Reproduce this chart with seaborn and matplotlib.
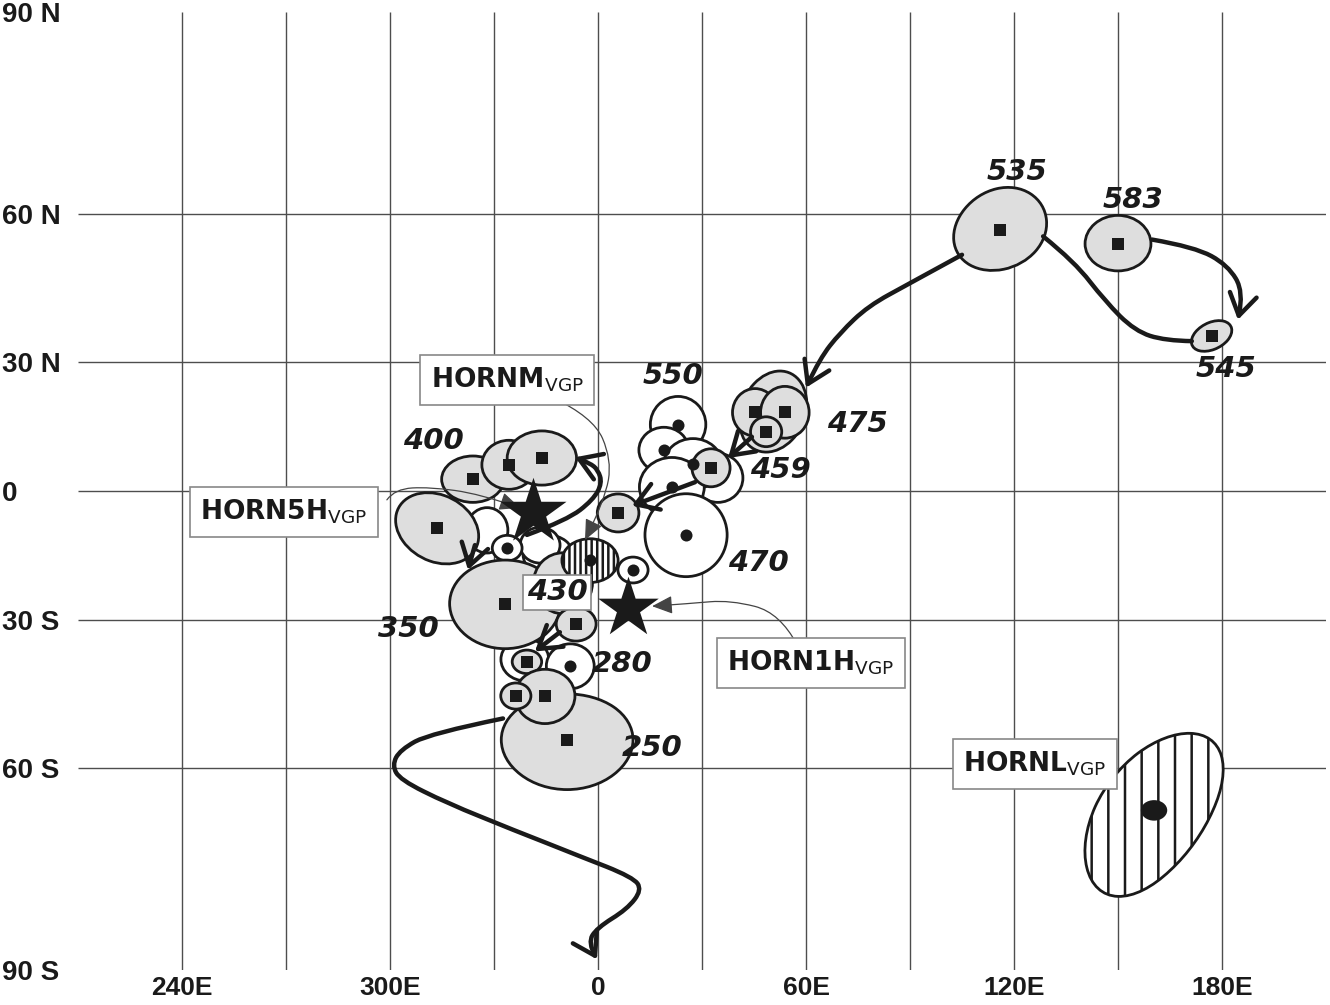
import matplotlib
matplotlib.use("Agg")
import matplotlib.pyplot as plt
import numpy as np
import seaborn as sns
from matplotlib.patches import Ellipse, FancyArrowPatch, ArrowStyle
from matplotlib.path import Path

sns.set_theme(style="white")
plt.rcParams['font.family'] = ['DejaVu Sans']
plt.rcParams['mathtext.fontset'] = 'dejavusans'
plt.rcParams['hatch.color'] = '#1a1a1a'
plt.rcParams['hatch.linewidth'] = 1.8

INK = '#1a1a1a'
GREY_FILL = '#dedede'
GRID = '#4d4d4d'

# --- map grid / tick labels ---
lon_grid = [-120, -90, -60, -30, 0, 30, 60, 90, 120, 150, 180]
lat_grid = [-60, -30, 0, 30, 60]
lon_ticks = [-120, -60, 0, 60, 120, 180]
lon_labels = ['240E', '300E', '0', '60E', '120E', '180E']
lat_ticks = [-90, -60, -30, 0, 30, 60, 90]
lat_labels = ['90 S', '60 S', '30 S', '0', '30 N', '60 N', '90 N']

# --- poles with grey confidence ellipses and square markers ---
sq_lon = [116, 150, 177, 45.3, 53.9, 48.5, 32.6, 5.8, -36.1, -25.7, -16.2,
          -46.4, -26.8, -10.1, -6.3, -20.5, -8.9, -15.3, -23.7]
sq_lat = [57.0, 54.5, 35.7, 18.5, 18.5, 14.0, 5.5, -5.2, 2.8, 6.2, 7.8,
          -8.8, -26.3, -21.6, -30.9, -39.1, -54.8, -46.2, -46.2]
sq_w = [27, 19, 12, 13, 14, 9, 11, 12, 18, 15.6, 20, 24.5, 32, 17, 11.5, 8.5, 38, 17.3, 8.7]
sq_h = [15, 10.5, 6, 11, 12, 7, 9, 9, 11, 11.6, 12.8, 16, 20, 14, 7.5, 5, 18, 11, 5.3]
sq_ang = [8, 0, 16, 0, 0, 0, 0, 0, 0, 0, 0, -16, 0, 0, 0, 0, 0, 0, 0]

# grey envelope without marker (475 group)
env_lon, env_lat, env_w, env_h, env_ang = [50.5], [18.6], [21], [17], [40]

# --- poles with open ellipses and dot markers ---
dot_lon = [23.1, 19.0, 27.4, 21.3, 25.4, 10.1, -26.2, -8.0]
dot_lat = [15.7, 9.7, 6.4, 0.95, -10.4, -18.6, -13.5, -40.0]
dot_w = [16, 14.4, 16.7, 18.7, 23.7, 8.7, 8.6, 13.8]
dot_h = [13, 10.7, 12, 14, 19.5, 6, 6, 9.5]

# open ellipses without visible marker
open_lon = [34.6, -32.0, -14.4, -21.1, -16.7]
open_lat = [3.1, -9.3, -15.1, -38.6, -12.8]
open_w = [14.4, 12, 14.4, 13.8, 11.5]
open_h = [11.6, 10.7, 9.3, 9, 8.4]

# hatched VGP ellipses (HORNM, HORNL)
hat_lon = [-2.3, 160.4]
hat_lat = [-16.4, -67.0]
hat_w = [16.2, 43]
hat_h = [10.2, 21.5]
hat_ang = [0, 25.6]
hat_pattern = ['|||', '|']

# site VGP stars (HORN5H, HORN1H)
star_lon = [-18.8, 8.7]
star_lat = [-5.1, -27.4]
star_size = [2500, 2100]

# age labels (Ma)
age_text = ['535', '583', '545', '550', '475', '459', '470', '400', '350', '280', '250']
age_lon = [120.9, 154.3, 181.2, 21.6, 74.7, 52.5, 46.2, -47.6, -54.8, 6.9, 15.6]
age_lat = [67.2, 62.4, 28.4, 26.9, 15.9, 5.0, -17.0, 11.9, -32.0, -39.6, -56.3]
boxed_age, boxed_lon, boxed_lat = '430', -11.8, -23.7

# VGP name boxes
vgp_name = ['HORNM', 'HORN5H', 'HORN1H', 'HORNL']
vgp_lon = [-26.2, -90.6, 61.4, 126.1]
vgp_lat = [25.9, -5.0, -39.4, -59.3]

# APWP track segments (thick arrows)
track_lon = [
    [105.0, 90.0, 77.9, 69.8, 64.0, 60.0],
    [128.4, 137.6, 146.2, 154.9, 163.6, 171.3],
    [159.8, 172.2, 181.7, 186.3, 184.6],
    [44.4, 37.5],
    [28.0, 9.8],
    [-20.5, -8.9, -1.4, 1.2, 0.0, -2.3, -6.6],
    [-35.5, -37.5],
    [-11.0, -18.2],
    [-27.4, -48.5, -57.1, -59.4, -57.1, -43.6, -24.5, -5.2, 10.1, 12.7, 8.4, -0.3, -2.9, -0.3],
]
track_lat = [
    [52.4, 46.8, 42.1, 36.4, 30.8, 24.2],
    [55.9, 51.0, 43.2, 36.8, 34.7, 34.6],
    [55.3, 53.9, 50.4, 45.0, 39.2],
    [12.8, 7.8],
    [2.1, -3.5],
    [-10.4, -6.9, -2.1, 1.9, 5.0, 6.6, 8.0],
    [-12.8, -18.6],
    [-32.7, -36.9],
    [-50.7, -53.6, -56.7, -59.5, -62.1, -66.1, -70.5, -74.6, -77.7, -79.5, -82.2, -84.7, -86.6, -88.7],
]
track_head = [True, False, True, True, True, True, True, True, True]

# thin leader lines from VGP boxes
lead_lon = [
    [-13.0, -1.4, 4.0, 2.0, -3.75],
    [-60.9, -58.6, -48.5, -34.0, -22.5],
    [57.4, 52.5, 38.1, 26.5, 15.6],
]
lead_lat = [
    [21.9, 17.5, 7.4, -2.1, -11.6],
    [-2.1, 0.5, 0.95, -0.7, -4.0],
    [-35.4, -28.4, -25.5, -26.3, -26.9],
]


def lat_fwd(lat):
    t = np.asarray(lat, dtype=float) / 30.0
    return 126.37 * t + 2.5 * t ** 3 + 0.1333 * t ** 5


_lat_dense = np.linspace(-100, 100, 4001)


def lat_inv(y):
    return np.interp(y, lat_fwd(_lat_dense), _lat_dense)


def smooth_path(lons, lats):
    pts = np.column_stack([lons, lats]).astype(float)
    if len(pts) == 2:
        return Path(pts, [Path.MOVETO, Path.LINETO])
    verts, codes = [pts[0]], [Path.MOVETO]
    for i in range(1, len(pts) - 1):
        end = pts[-1] if i == len(pts) - 2 else (pts[i] + pts[i + 1]) / 2
        verts += [pts[i], end]
        codes += [Path.CURVE3, Path.CURVE3]
    return Path(verts, codes)


fig = plt.figure(figsize=(13.3, 10.05), dpi=100)
ax = fig.add_axes([78 / 1330, 35 / 1005, 1248 / 1330, 958 / 1005])
ax.set_yscale('function', functions=(lat_fwd, lat_inv))

# grid
ax.vlines(lon_grid, -90, 90, color=GRID, lw=1.0, zorder=0)
ax.hlines(lat_grid, -150, 210, color=GRID, lw=1.0, zorder=0)

# open ellipses
for x, y, w, h in zip(open_lon + dot_lon, open_lat + dot_lat, open_w + dot_w, open_h + dot_h):
    ax.add_patch(Ellipse((x, y), w, h, fc='white', ec=INK, lw=2.0, zorder=2))

for x, y, w, h, a in zip(env_lon, env_lat, env_w, env_h, env_ang):
    ax.add_patch(Ellipse((x, y), w, h, angle=a, fc=GREY_FILL, ec=INK, lw=2.0, zorder=2))

for x, y, w, h, a in zip(sq_lon, sq_lat, sq_w, sq_h, sq_ang):
    ax.add_patch(Ellipse((x, y), w, h, angle=a, fc=GREY_FILL, ec=INK, lw=2.0, zorder=2))

for x, y, w, h, a, p in zip(hat_lon, hat_lat, hat_w, hat_h, hat_ang, hat_pattern):
    ax.add_patch(Ellipse((x, y), w, h, angle=a, fc='white', ec=INK, lw=2.0,
                         hatch=p, zorder=3))

# markers
sns.scatterplot(x=sq_lon, y=sq_lat, marker='s', s=85, color=INK, linewidth=0, ax=ax, zorder=4)
sns.scatterplot(x=dot_lon + hat_lon[:1], y=dot_lat + hat_lat[:1], marker='o', s=75,
                color=INK, linewidth=0, ax=ax, zorder=4)
ax.add_patch(Ellipse((hat_lon[1], hat_lat[1] - 0.3), 7.6, 3.4, fc=INK, ec='none', zorder=4))

# APWP track
for xs, ys, head in zip(track_lon, track_lat, track_head):
    style = ArrowStyle('->', head_length=0.55, head_width=0.35) if head else ArrowStyle('-')
    ax.add_patch(FancyArrowPatch(path=smooth_path(xs, ys), arrowstyle=style,
                                 mutation_scale=28, lw=3.2, color=INK,
                                 capstyle='round', joinstyle='round', zorder=5))

# leader lines
for xs, ys in zip(lead_lon, lead_lat):
    ax.add_patch(FancyArrowPatch(path=smooth_path(xs, ys),
                                 arrowstyle=ArrowStyle('-|>', head_length=0.9, head_width=0.4),
                                 mutation_scale=14, lw=0.9, color='#444444', zorder=6))

# stars
for x, y, s in zip(star_lon, star_lat, star_size):
    ax.scatter([x], [y], marker='*', s=s, color=INK, linewidth=0, zorder=7)

# age labels
for t, x, y in zip(age_text, age_lon, age_lat):
    ax.text(x, y, t, fontsize=21, fontweight='bold', fontstyle='italic',
            ha='center', va='center', color=INK, zorder=8)
ax.text(boxed_lon, boxed_lat, boxed_age, fontsize=21, fontweight='bold', fontstyle='italic',
        ha='center', va='center', color=INK, zorder=8,
        bbox=dict(boxstyle='square,pad=0.12', fc='white', ec='#888888', lw=1.2))

for name, x, y in zip(vgp_name, vgp_lon, vgp_lat):
    ax.text(x, y, rf'$\mathbf{{{name}}}_{{\mathrm{{VGP}}}}$', fontsize=19,
            ha='center', va='center', color=INK, zorder=8,
            bbox=dict(boxstyle='square,pad=0.4', fc='white', ec='#888888', lw=1.2))

ax.set_xlim(-150, 210)
ax.set_ylim(-90, 90)
ax.set(xlabel='', ylabel='')
for s in ax.spines.values():
    s.set_visible(False)

tick_font = ['Liberation Sans Narrow', 'Liberation Sans', 'DejaVu Sans']
ax.set_xticks(lon_ticks, lon_labels)
ax.set_yticks(lat_ticks, lat_labels)
ax.minorticks_off()
ax.tick_params(axis='x', length=0, pad=4, labelsize=19, colors=INK)
ax.tick_params(axis='y', length=0, pad=55, labelsize=20, colors=INK)
for lab in ax.get_xticklabels() + ax.get_yticklabels():
    lab.set_fontweight('bold')
    lab.set_family(tick_font)
for lab in ax.get_yticklabels():
    lab.set_horizontalalignment('left')

fig.savefig('out.png', dpi=100, facecolor='white')
